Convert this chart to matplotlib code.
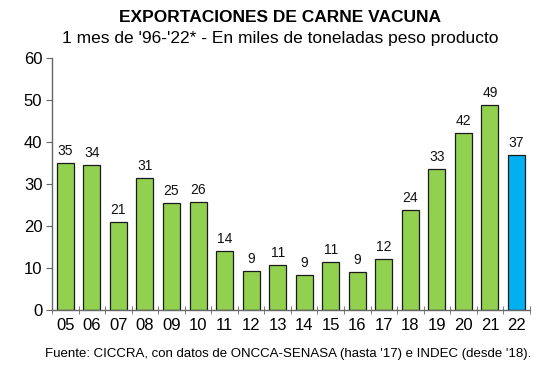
import numpy as np
import matplotlib
matplotlib.use("Agg")
import matplotlib.pyplot as plt

plt.rcParams["font.family"] = ["Liberation Sans", "DejaVu Sans"]

years = ["05", "06", "07", "08", "09", "10", "11", "12", "13", "14",
         "15", "16", "17", "18", "19", "20", "21", "22"]
values = [35.0, 34.4, 20.9, 31.4, 25.4, 25.6, 13.9, 9.3, 10.7, 8.4,
          11.5, 9.0, 12.2, 23.7, 33.5, 42.1, 48.7, 36.8]
labels = ["35", "34", "21", "31", "25", "26", "14", "9", "11", "9",
          "11", "9", "12", "24", "33", "42", "49", "37"]

GREEN = "#92D050"
BLUE = "#00B0F0"
colors = [GREEN] * (len(years) - 1) + [BLUE]

fig = plt.figure(figsize=(5.6, 3.83), dpi=100)
ax = fig.add_axes([0.093, 0.191, 0.853, 0.658])

x = np.arange(len(years))
ax.bar(x, values, width=0.64, color=colors, edgecolor="#1a1a1a", linewidth=0.9, zorder=2)

for xi, v, lab in zip(x, values, labels):
    ax.text(xi, v + 1.2, lab, ha="center", va="bottom", fontsize=10, color="#111111")

ax.set_xlim(-0.5, len(years) - 0.5)
ax.set_ylim(0, 60)
ax.set_yticks(range(0, 61, 10))
ax.tick_params(axis="y", labelsize=12, length=4, color="#666666", pad=3)

ax.set_xticks(x)
ax.set_xticklabels(years, fontsize=12)
ax.tick_params(axis="x", which="major", length=0, pad=6)
ax.set_xticks(np.arange(-0.5, len(years)), minor=True)
ax.tick_params(axis="x", which="minor", length=6, direction="inout", color="#666666")

for s in ["top", "right"]:
    ax.spines[s].set_visible(False)
for s in ["left", "bottom"]:
    ax.spines[s].set_color("#666666")
    ax.spines[s].set_linewidth(1.0)

fig.text(0.5, 0.955, "EXPORTACIONES DE CARNE VACUNA", ha="center", va="center",
         fontsize=12.5, fontweight="bold")
fig.text(0.5, 0.9, "1 mes de '96-'22* - En miles de toneladas peso producto",
         ha="center", va="center", fontsize=12.5)
fig.text(0.515, 0.075, "Fuente: CICCRA, con datos de ONCCA-SENASA (hasta '17) e INDEC (desde '18).",
         ha="center", va="center", fontsize=9.5)

fig.savefig("out.png", dpi=100)
